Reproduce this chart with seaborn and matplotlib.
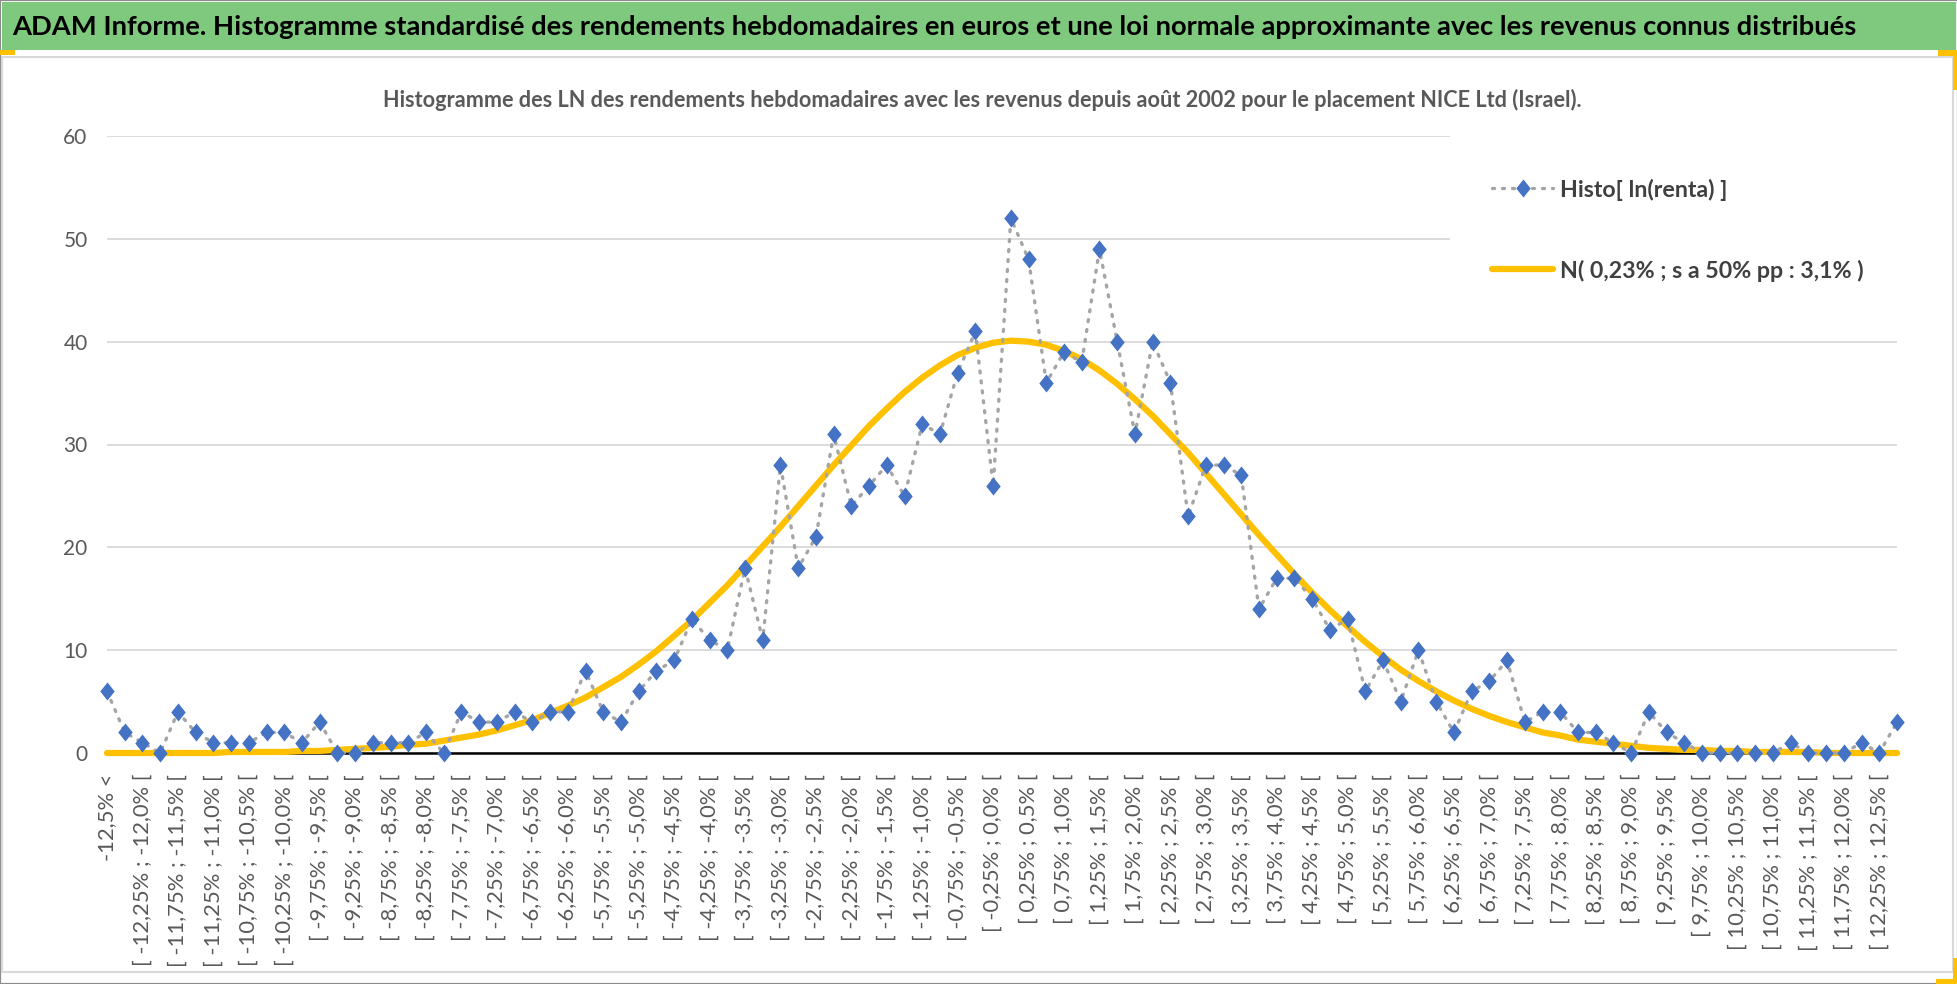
import numpy as np
import pandas as pd
import matplotlib
matplotlib.use("Agg")
import matplotlib.pyplot as plt
from matplotlib import font_manager
from matplotlib.patches import Rectangle
from matplotlib.lines import Line2D
import seaborn as sns

# ---------------- data ----------------
histo_counts = [6, 2, 1, 0, 4, 2, 1, 1, 1, 2, 2, 1, 3, 0, 0, 1, 1, 1, 2, 0,
                4, 3, 3, 4, 3, 4, 4, 8, 4, 3, 6, 8, 9, 13, 11, 10, 18, 11, 28, 18,
                21, 31, 24, 26, 28, 25, 32, 31, 37, 41, 26, 52, 48, 36, 39, 38, 49, 40, 31, 40,
                36, 23, 28, 28, 27, 14, 17, 17, 15, 12, 13, 6, 9, 5, 10, 5, 2, 6, 7, 9,
                3, 4, 4, 2, 2, 1, 0, 4, 2, 1, 0, 0, 0, 0, 0, 1, 0, 0, 0, 1,
                0, 3]

normal_curve = [0.0, 0.0, 0.0, 0.0, 0.0, 0.0, 0.0, 0.1, 0.1, 0.1, 0.1, 0.2, 0.2, 0.3, 0.4, 0.5, 0.6, 0.8, 0.9, 1.2,
                1.5, 1.8, 2.2, 2.7, 3.2, 3.9, 4.6, 5.4, 6.4, 7.4, 8.6, 9.9, 11.4, 12.9, 14.6, 16.3, 18.2, 20.1, 22.0, 24.0,
                26.0, 28.0, 29.9, 31.8, 33.5, 35.1, 36.5, 37.7, 38.7, 39.4, 39.9, 40.1, 40.0, 39.7, 39.1, 38.3, 37.2, 35.9, 34.4, 32.8,
                31.0, 29.2, 27.2, 25.2, 23.2, 21.2, 19.3, 17.4, 15.6, 13.9, 12.3, 10.8, 9.4, 8.1, 7.0, 6.0, 5.1, 4.3, 3.6, 3.0,
                2.5, 2.0, 1.7, 1.3, 1.1, 0.9, 0.7, 0.5, 0.4, 0.3, 0.3, 0.2, 0.2, 0.1, 0.1, 0.1, 0.1, 0.0, 0.0, 0.0,
                0.0, 0.0]

shown_tick_labels = [
    "-12,5% <",
    "[ -12,25% ; -12,0% [", "[ -11,75% ; -11,5% [", "[ -11,25% ; -11,0% [", "[ -10,75% ; -10,5% [",
    "[ -10,25% ; -10,0% [", "[ -9,75% ; -9,5% [", "[ -9,25% ; -9,0% [", "[ -8,75% ; -8,5% [",
    "[ -8,25% ; -8,0% [", "[ -7,75% ; -7,5% [", "[ -7,25% ; -7,0% [", "[ -6,75% ; -6,5% [",
    "[ -6,25% ; -6,0% [", "[ -5,75% ; -5,5% [", "[ -5,25% ; -5,0% [", "[ -4,75% ; -4,5% [",
    "[ -4,25% ; -4,0% [", "[ -3,75% ; -3,5% [", "[ -3,25% ; -3,0% [", "[ -2,75% ; -2,5% [",
    "[ -2,25% ; -2,0% [", "[ -1,75% ; -1,5% [", "[ -1,25% ; -1,0% [", "[ -0,75% ; -0,5% [",
    "[ -0,25% ; 0,0% [", "[ 0,25% ; 0,5% [", "[ 0,75% ; 1,0% [", "[ 1,25% ; 1,5% [",
    "[ 1,75% ; 2,0% [", "[ 2,25% ; 2,5% [", "[ 2,75% ; 3,0% [", "[ 3,25% ; 3,5% [",
    "[ 3,75% ; 4,0% [", "[ 4,25% ; 4,5% [", "[ 4,75% ; 5,0% [", "[ 5,25% ; 5,5% [",
    "[ 5,75% ; 6,0% [", "[ 6,25% ; 6,5% [", "[ 6,75% ; 7,0% [", "[ 7,25% ; 7,5% [",
    "[ 7,75% ; 8,0% [", "[ 8,25% ; 8,5% [", "[ 8,75% ; 9,0% [", "[ 9,25% ; 9,5% [",
    "[ 9,75% ; 10,0% [", "[ 10,25% ; 10,5% [", "[ 10,75% ; 11,0% [", "[ 11,25% ; 11,5% [",
    "[ 11,75% ; 12,0% [", "[ 12,25% ; 12,5% [",
]
y_ticks = [0, 10, 20, 30, 40, 50, 60]

series_labels = ["Histo[ ln(renta) ]", "N( 0,23% ; s a 50% pp : 3,1% )"]
main_title = ("ADAM Informe. Histogramme standardisé des rendements hebdomadaires en euros "
              "et une loi normale approximante avec les revenus connus distribués")
sub_title = ("Histogramme des LN des rendements hebdomadaires avec les revenus depuis août 2002 "
             "pour le placement NICE Ltd (Israel).")

# ---------------- style ----------------
sns.set_style("white")


def pick(*names):
    for n in names:
        try:
            font_manager.findfont(font_manager.FontProperties(family=n), fallback_to_default=False)
            return n
        except Exception:
            continue
    return "DejaVu Sans"


NARROW = pick("Liberation Sans Narrow", "Lato", "DejaVu Sans")
REG = pick("Liberation Sans Narrow", "Lato", "DejaVu Sans")
plt.rcParams["font.family"] = [REG, "DejaVu Sans"]

W, H = 1958, 984
fig = plt.figure(figsize=(W / 100, H / 100), dpi=100)
fig.patch.set_facecolor("white")


def fx(px):
    return px / W


def fy(py):
    return 1 - py / H


# decorations: outer frame, chart-area frame, green title bar, yellow accents
fig.add_artist(Rectangle((0, 0), 1, 1, transform=fig.transFigure, fill=False,
                         edgecolor="#8C8C8C", lw=1.6))
fig.add_artist(Rectangle((fx(2), fy(972)), fx(1953) - fx(2), fy(57) - fy(972),
                         transform=fig.transFigure, fill=False, edgecolor="#D9D9D9", lw=1.5))
fig.add_artist(Rectangle((fx(2), fy(50)), fx(1956) - fx(2), fy(2) - fy(50),
                         transform=fig.transFigure, facecolor="#7FC97F", edgecolor="none"))
fig.add_artist(Rectangle((fx(0), fy(55)), fx(15), fy(50) - fy(55),
                         transform=fig.transFigure, facecolor="#FFC000", edgecolor="none"))
fig.add_artist(Rectangle((fx(1938), fy(56)), fx(1958) - fx(1938), fy(50) - fy(56),
                         transform=fig.transFigure, facecolor="#FFC000", edgecolor="none"))
fig.add_artist(Rectangle((fx(1953), fy(90)), fx(1958) - fx(1953), fy(50) - fy(90),
                         transform=fig.transFigure, facecolor="#FFC000", edgecolor="none"))
fig.add_artist(Rectangle((fx(1953), fy(984)), fx(1958) - fx(1953), fy(958) - fy(984),
                         transform=fig.transFigure, facecolor="#FFC000", edgecolor="none"))
fig.add_artist(Rectangle((fx(1936), fy(984)), fx(1958) - fx(1936), fy(979) - fy(984),
                         transform=fig.transFigure, facecolor="#FFC000", edgecolor="none"))

ax = fig.add_axes([fx(107), fy(753), fx(1897) - fx(107), fy(136) - fy(753)])
ax.set_facecolor("none")

n = len(histo_counts)
df = pd.DataFrame({"idx": np.arange(n), "histo": histo_counts, "normal": normal_curve})

diamond = [(0, 1), (0.8, 0), (0, -1), (-0.8, 0)]
sns.lineplot(data=df, x="idx", y="histo", ax=ax, color="#A5A5A5", lw=2.4,
             linestyle=(0, (0.6, 2.4)), dash_capstyle="round",
             marker=diamond, markersize=13, markerfacecolor="#4472C4",
             markeredgecolor="#4472C4", markeredgewidth=0, clip_on=False, zorder=4)
sns.lineplot(data=df, x="idx", y="normal", ax=ax, color="#FFC000", lw=4.5,
             solid_capstyle="round", clip_on=False, zorder=3)

ax.set_xlim(0, n - 1)
ax.set_ylim(0, 60)
ax.set_xlabel("")
ax.set_ylabel("")

# axes styling
for s in ["left", "right", "top"]:
    ax.spines[s].set_visible(False)
ax.spines["bottom"].set_color("black")
ax.spines["bottom"].set_linewidth(1.8)
ax.spines["bottom"].set_zorder(2.5)

ax.set_yticks(y_ticks)
ax.set_yticklabels([str(v) for v in y_ticks])
ax.set_xticks(np.arange(0, n, 2))
ax.set_xticklabels(shown_tick_labels, rotation=90, va="top", ha="center")
ax.set_xticks(np.arange(0, n, 4), minor=True)
ax.tick_params(axis="x", which="major", length=0, pad=15, labelsize=12, labelcolor="#595959")
ax.tick_params(axis="x", which="minor", length=12, width=1.5, direction="inout", color="black")
ax.tick_params(axis="y", length=0, pad=14, labelsize=15, labelcolor="#595959")
ax.grid(False)
ax.grid(True, axis="x", which="minor", color="#D9D9D9", lw=1.3)
ax.grid(True, axis="y", which="major", color="#D9D9D9", lw=1.3)
ax.set_axisbelow(True)

# legend
handles = [
    Line2D([], [], color="#A5A5A5", lw=2.4, linestyle=(0, (0.6, 2.4)), dash_capstyle="round",
           marker=diamond, markersize=13, markerfacecolor="#4472C4", markeredgewidth=0),
    Line2D([], [], color="#FFC000", lw=4.5),
]
leg = ax.legend(handles, series_labels, loc="upper left", bbox_to_anchor=(0.75, 1.0),
                borderaxespad=0, frameon=True, facecolor="white", edgecolor="none",
                framealpha=1, fancybox=False, fontsize=17, handlelength=2.6,
                handletextpad=0.3, labelspacing=2.5, borderpad=1.8,
                prop={"family": [NARROW, "DejaVu Sans"], "weight": "bold", "size": 17})
for t in leg.get_texts():
    t.set_color("#404040")
leg.set_zorder(5)

# titles
t1 = fig.text(fx(12), fy(27), main_title, ha="left", va="center", fontsize=24,
              fontweight="bold", color="black", family=[NARROW, "DejaVu Sans"])
t2 = fig.text(fx(982), fy(100), sub_title, ha="center", va="center", fontsize=15,
              fontweight="bold", color="#595959", family=[NARROW, "DejaVu Sans"])

# fit text widths to the reference
fig.canvas.draw()
r = fig.canvas.get_renderer()


def fit(txt, target):
    w = txt.get_window_extent(r).width
    txt.set_fontsize(txt.get_fontsize() * target / w)


fit(t1, 1850)
fit(t2, 1200)
lt = leg.get_texts()[1]
scale = 304 / lt.get_window_extent(r).width
for t in leg.get_texts():
    t.set_fontsize(t.get_fontsize() * scale)
lab = ax.get_xticklabels()[1]
sx = 192 / lab.get_window_extent(r).height
for t in ax.get_xticklabels():
    t.set_fontsize(t.get_fontsize() * sx)

fig.savefig("out.png", dpi=100, facecolor="white")
